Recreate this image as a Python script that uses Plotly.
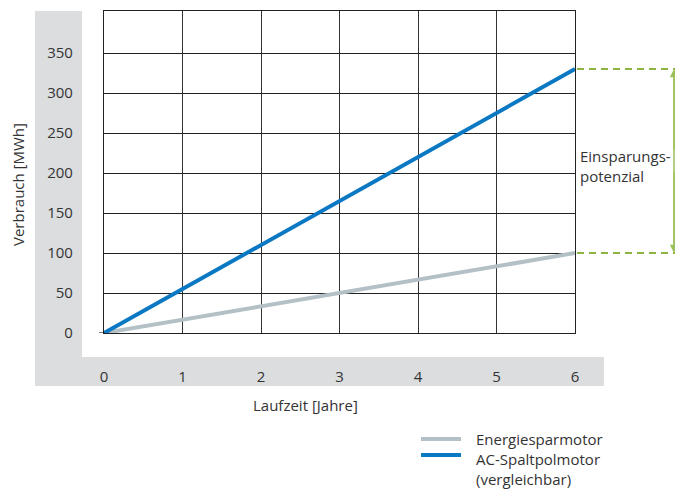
import plotly.graph_objects as go

years = [0, 1, 2, 3, 4, 5, 6]
energiespar = [0, 16.7, 33.3, 50, 66.7, 83.3, 100]
ac_spaltpol = [0, 55, 110, 165, 220, 275, 330]
y_ticks = [0, 50, 100, 150, 200, 250, 300, 350]
x_ticks = [0, 1, 2, 3, 4, 5, 6]

C_BLUE = "#0a78c2"
C_GRAY = "#b3c0c6"
C_GREEN = "#8db43e"
C_ARROW = "#9cc05a"
C_BAND = "#dcdddf"
C_TEXT = "#333333"
FONT = "Open Sans"
FS = 15

OFF = 8  # page body margin of the browser
W, H = 683 - OFF, 489 - OFF
L, R, T, B = 104, 575, 11, 333  # plot area in page pixels
YMAX = 402.5
AX = 674  # arrow x in page pixels


def px(x):
    return (x - L) / (R - L)


def py(y):
    return (B - y) / (B - T)


fig = go.Figure()
fig.add_trace(go.Scatter(x=years, y=energiespar, mode="lines", name="Energiesparmotor",
                         line=dict(color=C_GRAY, width=4), showlegend=False))
fig.add_trace(go.Scatter(x=years, y=ac_spaltpol, mode="lines", name="AC-Spaltpolmotor (vergleichbar)",
                         line=dict(color=C_BLUE, width=4), showlegend=False))

shapes = [
    # gray L-shaped frame
    dict(type="rect", xref="paper", yref="paper", x0=px(35), x1=px(82), y0=py(386), y1=py(11),
         fillcolor=C_BAND, line=dict(width=0), layer="below"),
    dict(type="rect", xref="paper", yref="paper", x0=px(35), x1=px(604), y0=py(386), y1=py(357),
         fillcolor=C_BAND, line=dict(width=0), layer="below"),
    # small tick at origin
    dict(type="line", xref="paper", yref="y", x0=px(99), x1=0, y0=0, y1=0,
         line=dict(color="#222222", width=1.2)),
    # green dashed reference lines
    dict(type="line", xref="paper", yref="y", x0=px(577), x1=px(690), y0=ac_spaltpol[-1], y1=ac_spaltpol[-1],
         line=dict(color=C_GREEN, width=2, dash="7px,5px")),
    dict(type="line", xref="paper", yref="y", x0=px(577), x1=px(690), y0=energiespar[-1], y1=energiespar[-1],
         line=dict(color=C_GREEN, width=2, dash="7px,5px")),
    # vertical arrow shaft
    dict(type="line", xref="paper", yref="y", x0=px(AX), x1=px(AX),
         y0=energiespar[-1] + 8, y1=ac_spaltpol[-1] - 8, line=dict(color=C_ARROW, width=1.5)),
    # legend samples
    dict(type="line", xref="paper", yref="paper", x0=px(421), x1=px(461), y0=py(439), y1=py(439),
         line=dict(color=C_GRAY, width=4)),
    dict(type="line", xref="paper", yref="paper", x0=px(421), x1=px(461), y0=py(455), y1=py(455),
         line=dict(color=C_BLUE, width=4)),
]

ann_font = dict(family=FONT, size=FS, color=C_TEXT)
annotations = [
    dict(x=px(18), y=py(185), xref="paper", yref="paper", text="Verbrauch [MWh]", textangle=-90,
         showarrow=False, font=ann_font, xanchor="center", yanchor="middle"),
    dict(x=px(305), y=py(405), xref="paper", yref="paper", text="Laufzeit [Jahre]",
         showarrow=False, font=ann_font, xanchor="center", yanchor="middle"),
    dict(x=px(578), y=py(166), xref="paper", yref="paper", text="Einsparungs-<br>potenzial",
         showarrow=False, font=ann_font, xanchor="left", yanchor="middle", align="left"),
    dict(x=px(474), y=py(439), xref="paper", yref="paper", text="Energiesparmotor",
         showarrow=False, font=ann_font, xanchor="left", yanchor="middle", align="left"),
    dict(x=px(474), y=py(469), xref="paper", yref="paper", text="AC-Spaltpolmotor<br>(vergleichbar)",
         showarrow=False, font=ann_font, xanchor="left", yanchor="middle", align="left"),
]
# arrow heads at both ends of the shaft (tails meet in the middle)
shaft_px = (B - T) * (ac_spaltpol[-1] - energiespar[-1]) / YMAX
for yv, ayv in [(ac_spaltpol[-1], shaft_px / 2), (energiespar[-1], -shaft_px / 2)]:
    annotations.append(dict(x=px(AX), y=yv, xref="paper", yref="y", ax=0, ay=ayv,
                            axref="pixel", ayref="pixel", text=" ", showarrow=True,
                            arrowhead=2, arrowsize=1.1, arrowwidth=1.5, arrowcolor=C_ARROW,
                            standoff=0))

fig.update_layout(
    width=W, height=H,
    margin=dict(l=L - OFF, r=W - (R - OFF), t=T - OFF, b=H - (B - OFF)),
    paper_bgcolor="white", plot_bgcolor="white",
    font=dict(family=FONT, size=FS, color=C_TEXT),
    shapes=shapes, annotations=annotations,
    showlegend=False,
)
fig.update_xaxes(range=[0, 6], tickvals=x_ticks, showgrid=True, gridcolor="#333333", gridwidth=1,
                 showline=True, linecolor="#222222", linewidth=1.2, mirror=True, zeroline=False,
                 ticks="", ticklabelstandoff=30, tickfont=dict(size=FS, color=C_TEXT))
fig.update_yaxes(range=[0, YMAX], tickvals=y_ticks, showgrid=True, gridcolor="#222222", gridwidth=1,
                 showline=True, linecolor="#222222", linewidth=1.2, mirror=True, zeroline=False,
                 ticks="", ticklabelstandoff=27, tickfont=dict(size=FS, color=C_TEXT))

fig.write_html("out.html")
